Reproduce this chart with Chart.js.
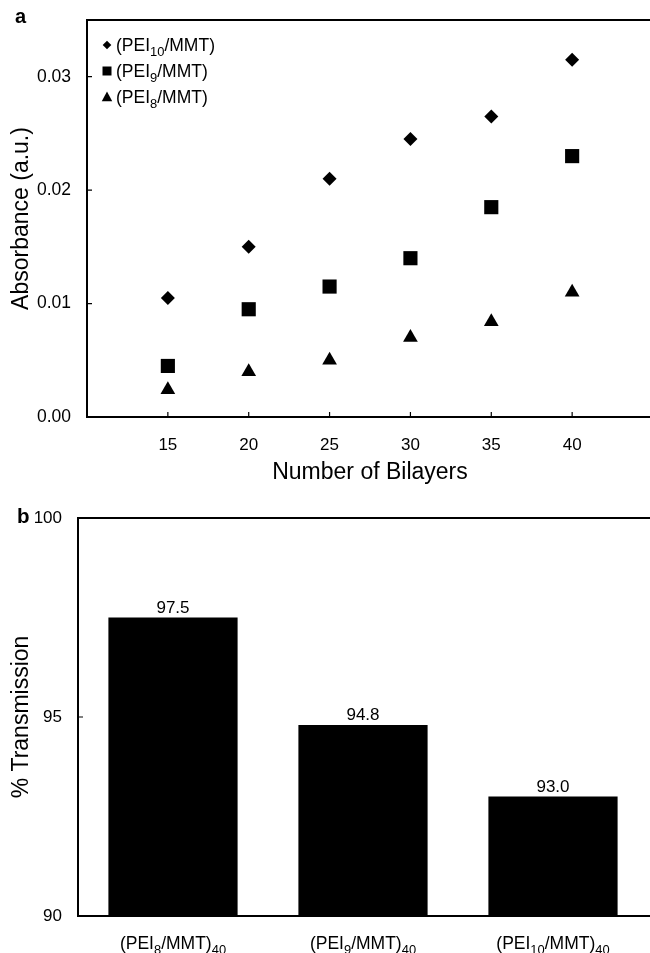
<!DOCTYPE html>
<html>
<head>
<meta charset="utf-8">
<script src="https://cdn.jsdelivr.net/npm/chart.js@4.4.0/dist/chart.umd.min.js"></script>
<style>
html, body { margin: 0; padding: 0; background: #fff; }
#wrap { position: relative; width: 650px; height: 953px; overflow: hidden; }
#chartA { position: absolute; left: 0; top: 0; }
#chartB { position: absolute; left: 0; top: 497px; }
</style>
</head>
<body>
<div id="wrap">
  <canvas id="chartA" width="653" height="497"></canvas>
  <canvas id="chartB" width="650" height="456"></canvas>
</div>
<script>
// panel a - absorbance vs number of bilayers
var bilayers = [15, 20, 25, 30, 35, 40];
var pei10 = [0.0105, 0.015, 0.021, 0.0245, 0.0265, 0.0315];
var pei9 = [0.0045, 0.0095, 0.0115, 0.014, 0.0185, 0.023];
var pei8 = [0.0024, 0.004, 0.005, 0.007, 0.0084, 0.011];
var absTicks = [0, 0.01, 0.02, 0.03];

// panel b - transmission of the 40 bilayer films
var films = ['8', '9', '10'];
var transmission = [97.5, 94.8, 93.0];
var transTicks = [90, 95, 100];

var FONT = '"Liberation Sans", Arial, sans-serif';
Chart.defaults.font.family = FONT;
Chart.defaults.color = '#000';

function peiParts(n, count) {
    var p = [['(PEI', 0], [n, 1], ['/MMT)', 0]];
    if (count) p.push([count, 1]);
    return p;
}

// text with subscripts, y is the baseline
function drawParts(ctx, parts, x, y, size, align) {
    var w = 0;
    parts.forEach(function (p) {
        ctx.font = (p[1] ? size * 0.74 : size) + 'px ' + FONT;
        w += ctx.measureText(p[0]).width;
    });
    var cx = align === 'center' ? x - w / 2 : x;
    ctx.textAlign = 'left';
    ctx.textBaseline = 'alphabetic';
    parts.forEach(function (p) {
        ctx.font = (p[1] ? size * 0.74 : size) + 'px ' + FONT;
        ctx.fillText(p[0], cx, p[1] ? y + size * 0.26 : y);
        cx += ctx.measureText(p[0]).width;
    });
}

function marker(ctx, style, x, y, r) {
    ctx.beginPath();
    if (style === 'rectRot') {
        ctx.moveTo(x - r, y); ctx.lineTo(x, y - r); ctx.lineTo(x + r, y); ctx.lineTo(x, y + r);
    } else if (style === 'rect') {
        ctx.rect(x - r, y - r, 2 * r, 2 * r);
    } else {
        ctx.moveTo(x, y - r); ctx.lineTo(x + r * 0.95, y + r * 0.75); ctx.lineTo(x - r * 0.95, y + r * 0.75);
    }
    ctx.closePath();
    ctx.fill();
}

function noPad(s) {
    s.paddingTop = 0; s.paddingBottom = 0; s.paddingLeft = 0; s.paddingRight = 0;
}

var frameA = {
    id: 'frameA',
    afterDraw: function (chart) {
        var ctx = chart.ctx, a = chart.chartArea;
        var xs = chart.scales.x, ys = chart.scales.y;
        ctx.save();
        ctx.strokeStyle = '#000';
        ctx.lineWidth = 2;
        ctx.beginPath();
        ctx.moveTo(chart.width, a.top); ctx.lineTo(a.left, a.top);
        ctx.lineTo(a.left, a.bottom); ctx.lineTo(chart.width, a.bottom);
        ctx.stroke();
        ctx.lineWidth = 1.2;
        ctx.beginPath();
        xs.ticks.forEach(function (t) {
            var px = xs.getPixelForValue(t.value);
            ctx.moveTo(px, a.bottom); ctx.lineTo(px, a.bottom - 5);
        });
        ys.ticks.forEach(function (t) {
            var py = ys.getPixelForValue(t.value);
            ctx.moveTo(a.left, py); ctx.lineTo(a.left + 5, py);
        });
        ctx.stroke();
        // legend
        ctx.fillStyle = '#000';
        var sizes = { rectRot: 4.3, rect: 4.5, triangle: 5.5 };
        chart.data.datasets.forEach(function (ds, i) {
            var cy = 45 + i * 26;
            marker(ctx, ds.pointStyle, 107, cy, sizes[ds.pointStyle]);
            drawParts(ctx, peiParts(ds.film), 116, cy + 6, 17.5);
        });
        ctx.font = 'bold 20px ' + FONT;
        ctx.textAlign = 'left';
        ctx.textBaseline = 'alphabetic';
        ctx.fillText('a', 15, 23);
        ctx.restore();
    }
};

new Chart(document.getElementById('chartA'), {
    type: 'scatter',
    data: {
        datasets: [
            { label: '(PEI10/MMT)', film: '10', data: bilayers.map(function (b, i) { return { x: b, y: pei10[i] }; }),
              pointStyle: 'rectRot', pointRadius: 7, backgroundColor: '#000', borderWidth: 0 },
            { label: '(PEI9/MMT)', film: '9', data: bilayers.map(function (b, i) { return { x: b, y: pei9[i] }; }),
              pointStyle: 'rect', pointRadius: 10, backgroundColor: '#000', borderWidth: 0 },
            { label: '(PEI8/MMT)', film: '8', data: bilayers.map(function (b, i) { return { x: b, y: pei8[i] }; }),
              pointStyle: 'triangle', pointRadius: 8.5, backgroundColor: '#000', borderWidth: 0 }
        ]
    },
    options: {
        responsive: false,
        animation: false,
        layout: { autoPadding: false, padding: { top: 20, left: 8, right: 0, bottom: 0 } },
        plugins: { legend: { display: false }, tooltip: { enabled: false } },
        scales: {
            x: {
                type: 'linear', min: 10, max: 45,
                afterBuildTicks: function (s) { s.ticks = bilayers.map(function (v) { return { value: v }; }); },
                afterFit: function (s) { s.height = 80; noPad(s); },
                grid: { display: false, drawTicks: false },
                border: { display: false },
                ticks: { font: { size: 17 }, padding: 18, maxRotation: 0 },
                title: { display: true, text: 'Number of Bilayers', font: { size: 23 }, padding: { top: 0, bottom: 11 } }
            },
            y: {
                min: 0, max: 0.035,
                afterBuildTicks: function (s) { s.ticks = absTicks.map(function (v) { return { value: v }; }); },
                afterFit: function (s) { s.width = 79; noPad(s); },
                grid: { display: false, drawTicks: false },
                border: { display: false },
                ticks: { font: { size: 17.5 }, padding: 16, callback: function (v) { return v.toFixed(2); } },
                title: { display: true, text: 'Absorbance (a.u.)', font: { size: 23 }, padding: 0 }
            }
        }
    },
    plugins: [frameA]
});

var frameB = {
    id: 'frameB',
    afterDraw: function (chart) {
        var ctx = chart.ctx, a = chart.chartArea;
        var xs = chart.scales.x, ys = chart.scales.y;
        ctx.save();
        ctx.strokeStyle = '#000';
        ctx.lineWidth = 2;
        ctx.beginPath();
        ctx.moveTo(chart.width, a.top); ctx.lineTo(a.left, a.top);
        ctx.lineTo(a.left, a.bottom); ctx.lineTo(chart.width, a.bottom);
        ctx.stroke();
        ctx.lineWidth = 1.2;
        ctx.beginPath();
        ys.ticks.forEach(function (t) {
            var py = ys.getPixelForValue(t.value);
            ctx.moveTo(a.left, py); ctx.lineTo(a.left + 5, py);
        });
        ctx.stroke();
        ctx.fillStyle = '#000';
        // values above bars
        var meta = chart.getDatasetMeta(0);
        ctx.font = '17px ' + FONT;
        ctx.textAlign = 'center';
        ctx.textBaseline = 'alphabetic';
        meta.data.forEach(function (bar, i) {
            ctx.fillText(transmission[i].toFixed(1), bar.x, bar.y - 5);
        });
        // category labels with subscripts
        films.forEach(function (n, i) {
            drawParts(ctx, peiParts(n, String(bilayers[bilayers.length - 1])), xs.getPixelForTick(i), a.bottom + 33, 17.5, 'center');
        });
        ctx.font = 'bold 20.5px ' + FONT;
        ctx.textAlign = 'left';
        ctx.fillText('b', 17, 26);
        ctx.restore();
    }
};

new Chart(document.getElementById('chartB'), {
    type: 'bar',
    data: {
        labels: films.map(function (n) { return '(PEI' + n + '/MMT)40'; }),
        datasets: [{ data: transmission, backgroundColor: '#000', borderWidth: 0,
                     barPercentage: 0.68, categoryPercentage: 1 }]
    },
    options: {
        responsive: false,
        animation: false,
        layout: { autoPadding: false, padding: { top: 21, left: 8, right: 2, bottom: 0 } },
        plugins: { legend: { display: false }, tooltip: { enabled: false } },
        scales: {
            x: {
                afterFit: function (s) { s.height = 37; noPad(s); },
                grid: { display: false, drawTicks: false },
                border: { display: false },
                ticks: { display: false }
            },
            y: {
                min: 90, max: 100,
                afterBuildTicks: function (s) { s.ticks = transTicks.map(function (v) { return { value: v }; }); },
                afterFit: function (s) { s.width = 70; noPad(s); },
                grid: { display: false, drawTicks: false },
                border: { display: false },
                ticks: { font: { size: 17 }, padding: 16 },
                title: { display: true, text: '% Transmission', font: { size: 23 }, padding: 0 }
            }
        }
    },
    plugins: [frameB]
});
</script>
</body>
</html>
